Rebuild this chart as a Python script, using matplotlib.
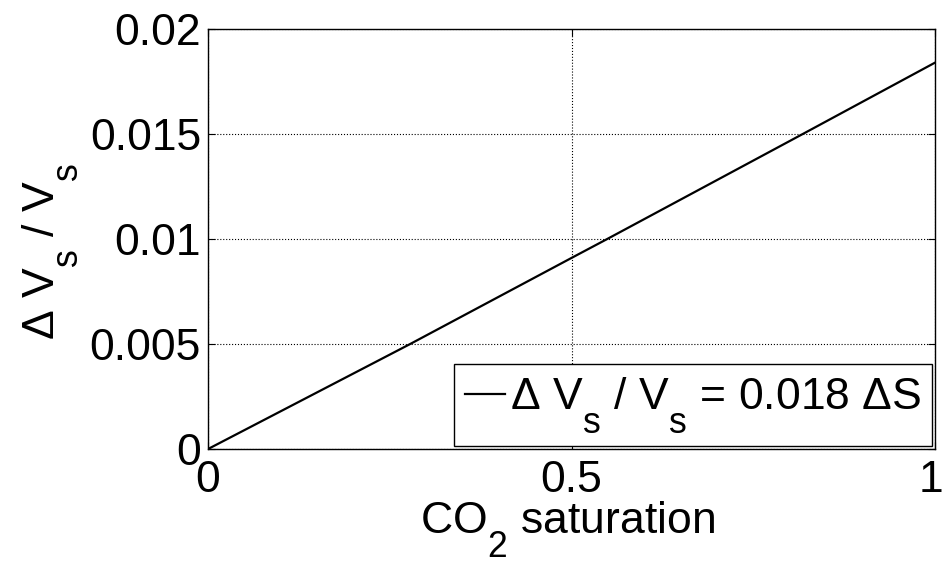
import numpy as np
import matplotlib
matplotlib.use('Agg')
import matplotlib.pyplot as plt
import matplotlib.transforms as mtransforms
import matplotlib._mathtext as mathtext_internals

plt.rcParams['font.family'] = ['Liberation Sans', 'DejaVu Sans']
plt.rcParams['mathtext.fontset'] = 'custom'
plt.rcParams['mathtext.rm'] = 'Liberation Sans'
plt.rcParams['mathtext.it'] = 'Liberation Sans'
plt.rcParams['mathtext.default'] = 'rm'

# deeper, larger subscripts
mathtext_internals.FontConstantsBase.sub1 = 1.0
mathtext_internals.SHRINK_FACTOR = 0.8

# CO2 saturation vs relative shear velocity change
saturation = [0.0, 0.278, 0.5, 0.549, 0.818, 1.0]
dvs_vs = [0.0, 0.005, 0.0091, 0.01, 0.015, 0.0184]

xticks = [0, 0.5, 1]
xticklabels = ['0', '0.5', '1']
yticks = [0, 0.005, 0.01, 0.015, 0.02]
yticklabels = ['0', '0.005', '0.01', '0.015', '0.02']

FS = 32

fig = plt.figure(figsize=(9.43, 5.61), dpi=100)
ax = fig.add_axes([0.2206, 0.1996, 0.771, 0.7487])

ax.plot(saturation, dvs_vs, color='black', lw=1.6,
        label=r'$\Delta\ V_s\ /\ V_s$ = 0.018 $\Delta$S')

ax.set_xlim(0, 1)
ax.set_ylim(0, 0.02)
ax.set_xticks(xticks)
ax.set_xticklabels(xticklabels)
ax.set_yticks(yticks)
ax.set_yticklabels(yticklabels)
ax.tick_params(direction='in', length=5, width=0.8, labelsize=FS,
               top=True, right=True, pad=5)
ax.tick_params(axis='x', pad=8)
for s in ax.spines.values():
    s.set_linewidth(1.0)

# keep the last x label inside the canvas
last = ax.get_xticklabels()[-1]
last.set_transform(last.get_transform() +
                   mtransforms.ScaledTranslation(-4 / 100, 0, fig.dpi_scale_trans))

ax.grid(True, linestyle=':', color='black', linewidth=0.8)

ax.set_xlabel(r'CO$_2$ saturation', fontsize=FS)
ax.set_ylabel(r'$\Delta\ V_s\ /\ V_s$', fontsize=FS)
ax.xaxis.set_label_coords(0.494, -0.12)
ax.yaxis.set_label_coords(-0.176, 0.47)

leg = ax.legend(loc='lower right', fontsize=FS, handlelength=0.9,
                handletextpad=0.1, borderpad=0.25, borderaxespad=0.06,
                fancybox=False, framealpha=1, edgecolor='black')
leg.get_frame().set_linewidth(1.0)

plt.savefig('out.png', dpi=100)
